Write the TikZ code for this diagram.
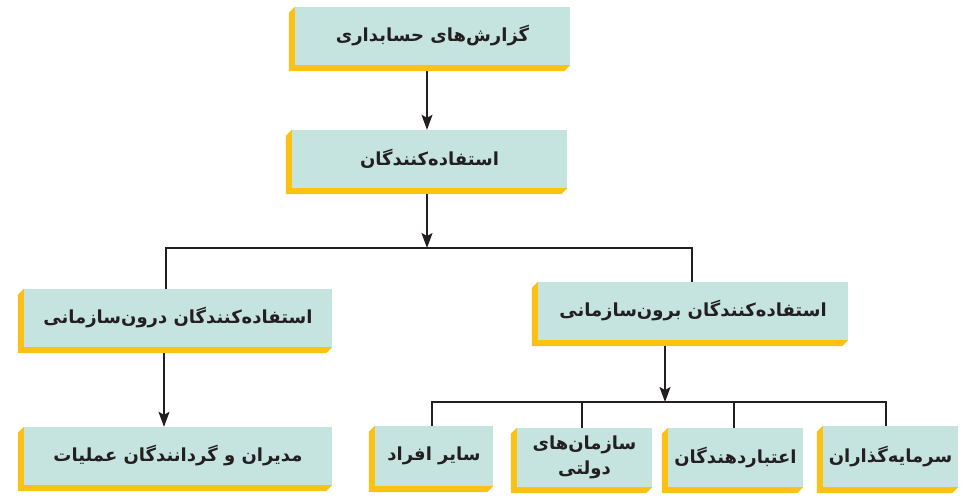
\documentclass[tikz,border=0pt]{standalone}
\usepackage{fontspec}
\newfontfamily\fa[Script=Arabic]{DejaVu Sans}
\TeXXeTstate=1
\usetikzlibrary{arrows.meta,backgrounds}
\definecolor{facec}{HTML}{C5E4DF}
\definecolor{yel}{HTML}{FBC114}
\definecolor{ink}{HTML}{231F20}
\begin{document}
\begin{tikzpicture}[x=1pt,y=-1pt,
  fbox/.style={fill=facec, inner sep=0pt, minimum height=58pt, align=center,
    font=\fa\bfseries\fontsize{18}{25}\selectfont, text=ink},
  conn/.style={draw=ink, line width=1.2pt},
  arr/.style={conn, -{Stealth[length=15pt,width=11pt,inset=3pt]}}]
\useasboundingbox (0,0) rectangle (968,503);
% level 1 and 2
\node[fbox, minimum width=275pt] (b1) at (432.5,36) {\beginR گزارش‌های حسابداری\endR};
\node[fbox, minimum width=275pt] (b2) at (429.5,159) {\beginR استفاده‌کنندگان\endR};
% level 3
\node[fbox, minimum width=308pt] (b3) at (178,318) {\beginR استفاده‌کنندگان درون‌سازمانی\endR};
\node[fbox, minimum width=310pt] (b4) at (693,311) {\beginR استفاده‌کنندگان برون‌سازمانی\endR};
% level 4
\node[fbox, minimum width=308pt] (b5) at (178,456) {\beginR مدیران و گردانندگان عملیات\endR};
\node[fbox, minimum width=118pt, minimum height=60pt] (c1) at (434,456) {\beginR سایر افراد\endR};
\node[fbox, minimum width=135pt, minimum height=59pt] (c2) at (584.5,457.5) {\beginR سازمان‌های\endR\\\beginR دولتی\endR};
\node[fbox, minimum width=135pt, minimum height=59pt] (c3) at (735.5,457.5) {\beginR اعتباردهندگان\endR};
\node[fbox, minimum width=135pt, minimum height=61pt] (c4) at (890.5,456.5) {\beginR سرمایه‌گذاران\endR};
% 3D yellow edges
\begin{scope}[on background layer]
\fill[white] (0,0) rectangle (968,503);
\foreach \n in {b1,b2,b3,b4,b5,c1,c2,c3,c4}
  \fill[yel] (\n.north west) -- ([xshift=-6pt,yshift=-6pt]\n.north west)
    -- ([xshift=-6pt,yshift=-6pt]\n.south west)
    -- ([xshift=-6pt,yshift=-6pt]\n.south east) -- (\n.south east) -- cycle;
\end{scope}
% junctions
\coordinate (j1) at (427,248);
\coordinate (j2) at (665,402);
% connectors
\draw[arr] ([xshift=-5.5pt,yshift=-6pt]b1.south) -- ([xshift=-5.5pt]b1.south |- b2.north);
\draw[arr] ([xshift=-2.5pt,yshift=-6pt]b2.south) -- (j1);
\draw[conn] ([xshift=-12pt]b3.north) |- (j1) -| ([xshift=-1pt]b4.north);
\draw[arr] ([xshift=-14pt,yshift=-6pt]b3.south) -- ([xshift=-14pt]b3.south |- b5.north);
\draw[arr] ([xshift=-28pt,yshift=-6pt]b4.south) -- (j2);
\draw[conn] ([xshift=-2pt]c1.north) |- (j2) -| ([xshift=-4.5pt]c4.north);
\draw[conn] ([xshift=-2.5pt]c2.north) |- (j2);
\draw[conn] ([xshift=-1.5pt]c3.north) |- (j2);
\end{tikzpicture}
\end{document}
